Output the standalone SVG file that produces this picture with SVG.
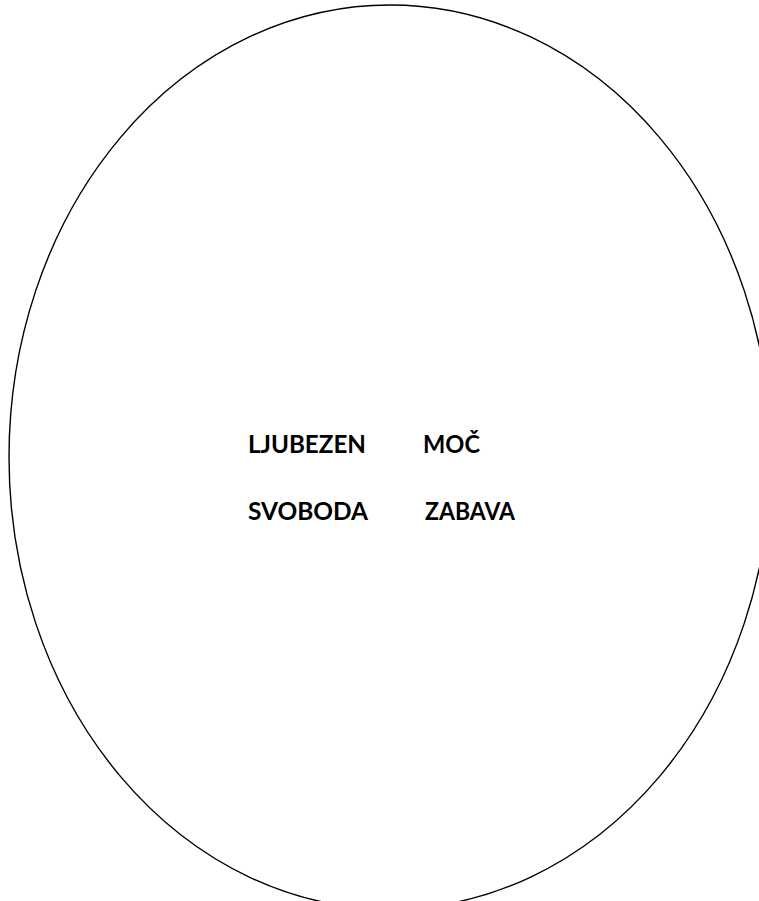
<svg xmlns="http://www.w3.org/2000/svg" width="759" height="901" viewBox="0 0 759 901">
<style>
.w{font-family:Lato,"Liberation Sans",sans-serif;font-weight:bold;font-size:25px;fill:#000}
</style>
<rect width="759" height="901" fill="#fff"/>
<g id="oval"><ellipse cx="390" cy="457" rx="381" ry="452" fill="none" stroke="#000" stroke-width="1.4"/></g>
<g id="words">
<text class="w" x="248" y="453" textLength="118" lengthAdjust="spacingAndGlyphs">LJUBEZEN</text>
<text class="w" x="423" y="453" textLength="57" lengthAdjust="spacingAndGlyphs">MOČ</text>
<text class="w" x="248" y="520" textLength="120" lengthAdjust="spacingAndGlyphs">SVOBODA</text>
<text class="w" x="425" y="520" textLength="90" lengthAdjust="spacingAndGlyphs">ZABAVA</text>
</g>
</svg>
